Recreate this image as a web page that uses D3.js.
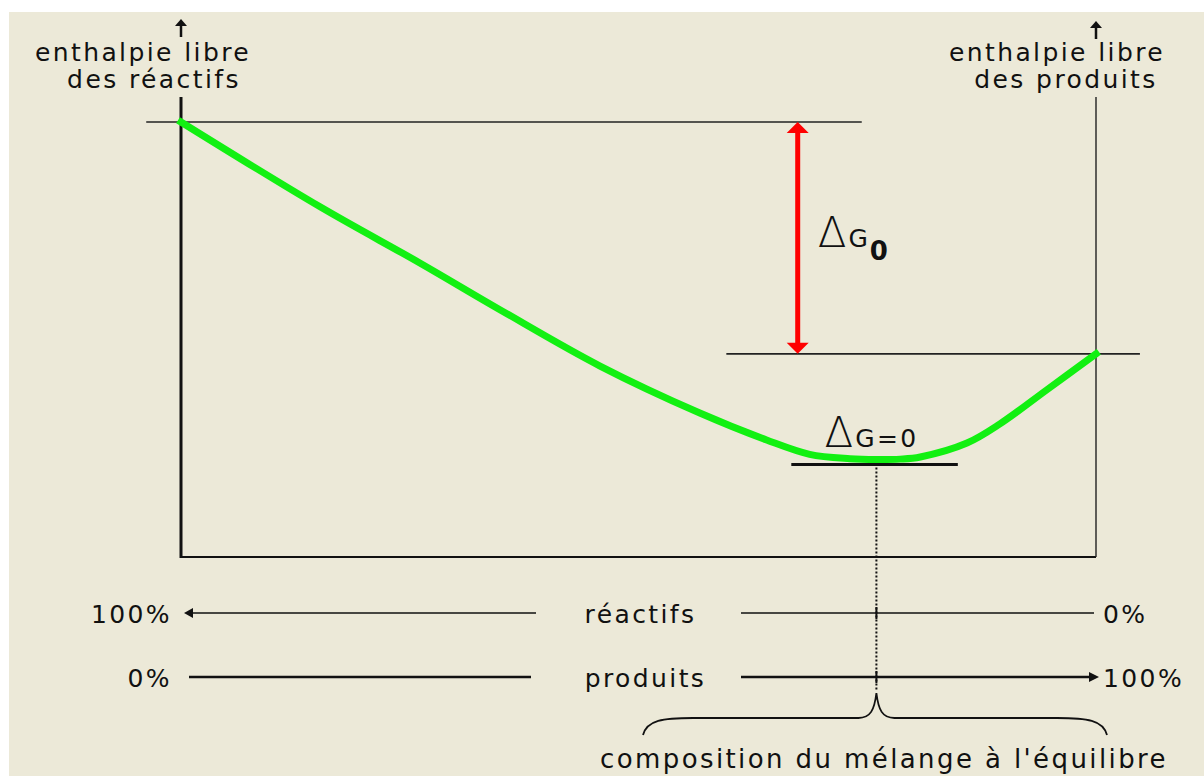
<!DOCTYPE html>
<html>
<head>
<meta charset="utf-8">
<script src="https://cdn.jsdelivr.net/npm/d3@7"></script>
<style>
  body { margin: 0; background: #fff; }
  text { font-family: "DejaVu Sans", Verdana, sans-serif; fill: #111; letter-spacing: 2.4px; }
</style>
</head>
<body>
<div id="vis"></div>
<script>
const width = 1204
const height = 776

// composition (% produits) and free enthalpy (arbitrary units, reactifs = 100)
const composition = [0, 15.2, 26.1, 34.9, 45.8, 56.7, 64.0, 68.7, 73.1, 76.0, 78.6, 80.8, 85.9, 89.5, 94.6, 100]
const enthalpy = [100, 80.5, 67.6, 56.8, 43.9, 33.1, 26.9, 23.6, 22.6, 22.4, 22.5, 23.0, 26.2, 30.6, 38.4, 46.7]

const gReactifs = 100
const gProduits = 46.7
const equilibrium = 76.0
const arrowAt = 67.4

const axisLabels = [["enthalpie libre", "des réactifs"], ["enthalpie libre", "des produits"]]
const rowLabels = ["réactifs", "produits"]
const rowEnds = [["100%", "0%"], ["0%", "100%"]]
const bottomLabel = "composition du mélange à l'équilibre"

const svg = d3.select("#vis")
    .append("svg")
    .attr("width", width)
    .attr("height", height)

svg.append("rect")
    .attr("x", 9)
    .attr("y", 12)
    .attr("width", width - 9)
    .attr("height", height - 12)
    .attr("fill", "#ece9d8")

const xScale = d3.scaleLinear([0, 100], [181, 1096])
const yScale = d3.scaleLinear([0, 100], [557, 122])

const x0 = xScale(0), x1 = xScale(100)
const yBase = yScale(0)

// frame: left axis, bottom axis, right axis
svg.append("line")
    .attr("x1", x0).attr("x2", x0)
    .attr("y1", 97).attr("y2", yBase + 1)
    .attr("stroke", "#111").attr("stroke-width", 3)
svg.append("line")
    .attr("x1", x0).attr("x2", x1)
    .attr("y1", yBase).attr("y2", yBase)
    .attr("stroke", "#111").attr("stroke-width", 2)
svg.append("line")
    .attr("x1", x1).attr("x2", x1)
    .attr("y1", 97).attr("y2", yBase)
    .attr("stroke", "#222").attr("stroke-width", 1.4)

// small arrows above the axes
const topArrows = [[x0, 19], [x1, 21]]
topArrows.forEach(([ax, ay]) => {
    svg.append("line")
        .attr("x1", ax).attr("x2", ax)
        .attr("y1", ay + 5).attr("y2", ay + 18)
        .attr("stroke", "#111").attr("stroke-width", 2.5)
    svg.append("path")
        .attr("d", `M${ax},${ay} L${ax - 6},${ay + 7} L${ax + 6},${ay + 7} Z`)
        .attr("fill", "#111")
})

// axis titles
const titleCenters = [[143, 154], [1057, 1066]]
axisLabels.forEach((lines, i) => {
    lines.forEach((t, j) => {
        svg.append("text")
            .attr("x", titleCenters[i][j])
            .attr("y", 61 + j * 27)
            .attr("text-anchor", "middle")
            .attr("font-size", 25)
            .text(t)
    })
})

// reference levels
svg.append("line")
    .attr("x1", xScale(-3.8)).attr("x2", xScale(74.4))
    .attr("y1", yScale(gReactifs)).attr("y2", yScale(gReactifs))
    .attr("stroke", "#222").attr("stroke-width", 1.4)
svg.append("line")
    .attr("x1", xScale(59.6)).attr("x2", xScale(104.8))
    .attr("y1", yScale(gProduits)).attr("y2", yScale(gProduits))
    .attr("stroke", "#222").attr("stroke-width", 1.6)

// green curve
const line = d3.line()
    .x((d, i) => xScale(composition[i]))
    .y(d => yScale(d))
    .curve(d3.curveCatmullRom.alpha(0.5))

svg.append("path")
    .datum(enthalpy)
    .attr("d", line)
    .attr("fill", "none")
    .attr("stroke", "#12f012")
    .attr("stroke-width", 7)
    .attr("stroke-linecap", "square")

// equilibrium tangent
const gMin = d3.min(enthalpy)
const yMin = yScale(gMin) + 5
svg.append("line")
    .attr("x1", xScale(66.7)).attr("x2", xScale(84.9))
    .attr("y1", yMin).attr("y2", yMin)
    .attr("stroke", "#111").attr("stroke-width", 3)

// red double arrow for delta G0
const ax = xScale(arrowAt)
const yTop = yScale(gReactifs), yBot = yScale(gProduits)
svg.append("line")
    .attr("x1", ax).attr("x2", ax)
    .attr("y1", yTop + 8).attr("y2", yBot - 8)
    .attr("stroke", "#ff0000").attr("stroke-width", 5)
svg.append("path")
    .attr("d", `M${ax},${yTop} L${ax - 11},${yTop + 11} L${ax + 11},${yTop + 11} Z`)
    .attr("fill", "#ff0000")
svg.append("path")
    .attr("d", `M${ax},${yBot} L${ax - 11},${yBot - 11} L${ax + 11},${yBot - 11} Z`)
    .attr("fill", "#ff0000")

// delta G0 label
const dg0 = svg.append("text")
    .attr("x", ax + 20)
    .attr("y", 247)
    .style("letter-spacing", "0px")
dg0.append("tspan").attr("font-size", 42).attr("font-weight", 200).text("Δ")
dg0.append("tspan").attr("font-size", 25).attr("dx", 2).text("G")
dg0.append("tspan").attr("font-size", 26).attr("dy", 13).attr("dx", 2).attr("font-weight", "bold").text("0")

// delta G = 0 label
const dgEq = svg.append("text")
    .attr("x", xScale(equilibrium) - 52)
    .attr("y", 447)
dgEq.append("tspan").attr("font-size", 42).attr("font-weight", 200).style("letter-spacing", "0px").text("Δ")
dgEq.append("tspan").attr("font-size", 25).attr("dx", 2).text("G=0")

// dotted line at equilibrium composition
const xe = xScale(equilibrium)
svg.append("line")
    .attr("x1", xe).attr("x2", xe)
    .attr("y1", yMin + 3).attr("y2", 690)
    .attr("stroke", "#111").attr("stroke-width", 2)
    .attr("stroke-dasharray", "2,2")

// composition rows
const rowY = [613, 677]
const gapLeft = 536, gapRight = 741
rowY.forEach((ry, i) => {
    const sw = i === 0 ? 1.4 : 2.4
    svg.append("line")
        .attr("x1", x0 + 8).attr("x2", gapLeft - (i ? 5 : 0))
        .attr("y1", ry).attr("y2", ry)
        .attr("stroke", "#111").attr("stroke-width", sw)
    svg.append("line")
        .attr("x1", gapRight).attr("x2", x1 - (i ? 6 : 2))
        .attr("y1", ry).attr("y2", ry)
        .attr("stroke", "#111").attr("stroke-width", sw)
    svg.append("line")
        .attr("x1", xe).attr("x2", xe)
        .attr("y1", ry - 6).attr("y2", ry + 6)
        .attr("stroke", "#111").attr("stroke-width", 2)
    svg.append("text")
        .attr("x", (gapLeft + gapRight) / 2 + (i ? 7 : 2))
        .attr("y", ry + 10)
        .attr("text-anchor", "middle")
        .attr("font-size", 25)
        .text(rowLabels[i])
    svg.append("text")
        .attr("x", x0 - 9)
        .attr("y", ry + 10)
        .attr("text-anchor", "end")
        .attr("font-size", 25)
        .text(rowEnds[i][0])
    svg.append("text")
        .attr("x", x1 + 7)
        .attr("y", ry + 10)
        .attr("font-size", 25)
        .text(rowEnds[i][1])
})
// arrow heads on the rows
svg.append("path")
    .attr("d", `M${x0 + 3},${rowY[0]} L${x0 + 12},${rowY[0] - 5} L${x0 + 12},${rowY[0] + 5} Z`)
    .attr("fill", "#111")
svg.append("path")
    .attr("d", `M${x1 + 3},${rowY[1]} L${x1 - 7},${rowY[1] - 5} L${x1 - 7},${rowY[1] + 5} Z`)
    .attr("fill", "#111")

// brace under the rows
const bTop = 718, bEnd = 735, bPeak = 693
const bL = 643, bR = 1107
svg.append("path")
    .attr("d", `M${bL},${bEnd} C${bL + 4},${bTop + 2} ${bL + 20},${bTop} ${bL + 50},${bTop}
        L${xe - 18},${bTop} C${xe - 6},${bTop} ${xe - 2},${bTop - 8} ${xe},${bPeak}
        C${xe + 2},${bTop - 8} ${xe + 6},${bTop} ${xe + 18},${bTop}
        L${bR - 50},${bTop} C${bR - 20},${bTop} ${bR - 4},${bTop + 2} ${bR},${bEnd}`)
    .attr("fill", "none")
    .attr("stroke", "#111")
    .attr("stroke-width", 1.8)

svg.append("text")
    .attr("x", 884)
    .attr("y", 768)
    .attr("text-anchor", "middle")
    .attr("font-size", 26)
    .text(bottomLabel)
</script>
</body>
</html>
